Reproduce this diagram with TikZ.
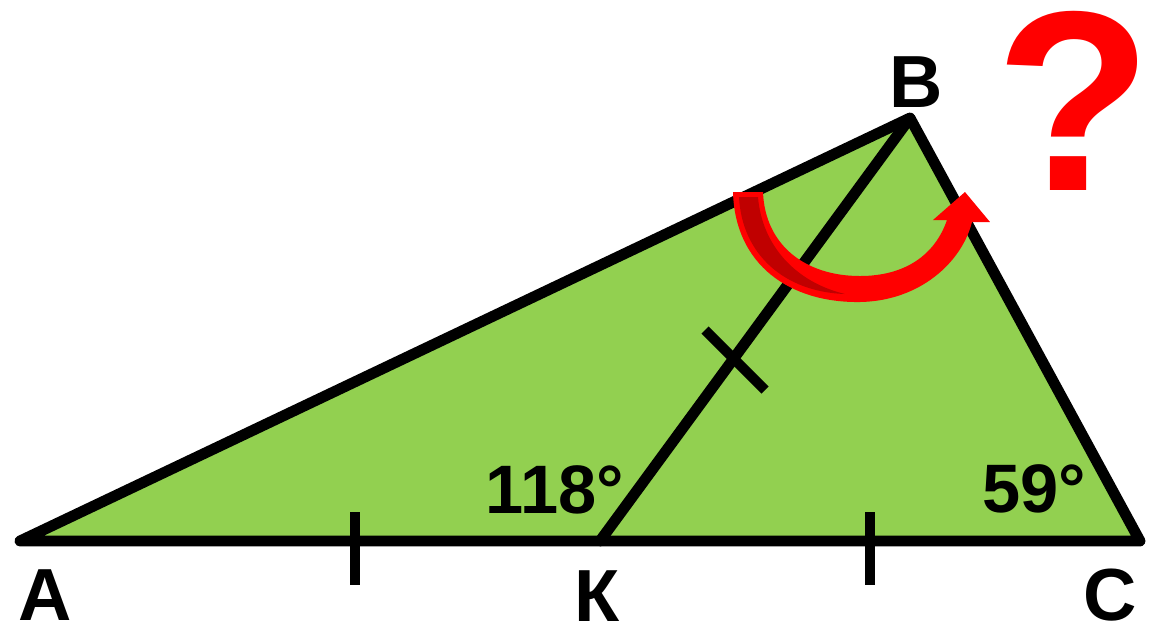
\documentclass[tikz,border=0pt]{standalone}
\usepackage{fontspec}
\setmainfont{Liberation Sans}
\usepackage{tikz}
\usetikzlibrary{positioning}
\definecolor{triFill}{HTML}{92D050}
\definecolor{arrRed}{HTML}{FF0000}
\definecolor{arrDark}{HTML}{C00000}

\begin{document}
\begin{tikzpicture}[x=0.01cm, y=-0.01cm, line join=round, line cap=round,
  side/.style={draw=black, line width=3.1pt},
  tick/.style={draw=black, line width=2.9pt, line cap=butt},
  lbl/.style={font=\fontsize{21}{25}\selectfont\bfseries, inner sep=0pt, anchor=base},
  ang/.style={font=\fontsize{19.5}{23}\selectfont\bfseries, inner sep=0pt, anchor=base}]
\useasboundingbox (0,0) rectangle (1159,626);
\coordinate (A) at (20,541); \coordinate (B) at (910,118);
\coordinate (C) at (1140,541); \coordinate (K) at (600,541);
\coordinate (t1a) at (355,512); \coordinate (t1b) at (355,585);
\coordinate (t2a) at (870,512); \coordinate (t2b) at (870,585);
\coordinate (t3a) at (705,330); \coordinate (t3b) at (765,390);
\fill[triFill] (A) -- (B) -- (C) -- cycle;
\draw[side] (A) -- (B) -- (C) -- cycle;
\draw[side] (K) -- (B);
\draw[tick] (t1a) -- (t1b); \draw[tick] (t2a) -- (t2b); \draw[tick] (t3a) -- (t3b);
% labels
\node[lbl] (lA) at (45,620) {А};
\node[lbl] (lK) at (597,621) {К};
\node[lbl] (lC) at (1110,620) {С};
\node[lbl] (lB) at (916,107) {В};
\node[ang] (aK) at (555,513) {118°};
\node[ang] (aC) at (1034,512) {59°};
% red arrow
\fill[arrRed] (733,192) .. controls (735,265) and (790,303) .. (860,302)
  .. controls (920,301) and (962,262) .. (972,222) -- (990,222) -- (965,192)
  -- (933,220) -- (947,220) .. controls (935,255) and (905,276) .. (860,276)
  .. controls (805,276) and (765,245) .. (763,192) -- cycle;
\fill[arrDark] (739,197) -- (758,197) .. controls (762,245) and (795,282) .. (845,294)
  .. controls (785,292) and (742,255) .. (739,197) -- cycle;
\node[font=\fontsize{73}{80}\selectfont\bfseries, text=arrRed, inner sep=0pt, anchor=base] (qm) at (1074,190) {?};
\end{tikzpicture}
\end{document}
